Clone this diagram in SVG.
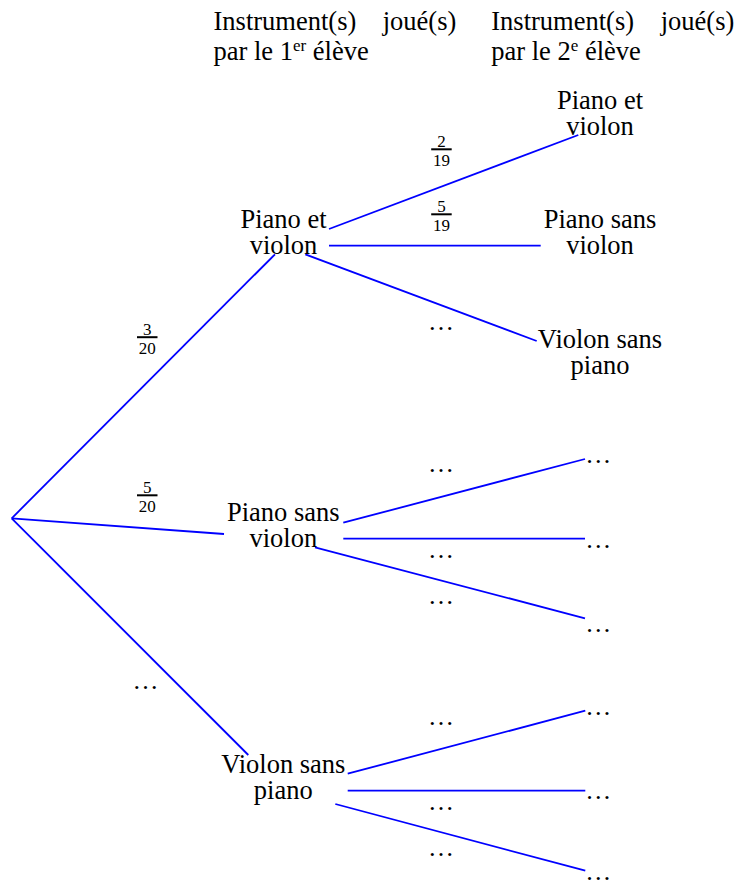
<svg xmlns="http://www.w3.org/2000/svg" width="738" height="882" viewBox="0 0 738 882">
<style>
  text { font-family: "Liberation Serif", "DejaVu Serif", serif; fill: #000; }
  .t { font-size: 26.5px; }
  .n { font-size: 26.5px; text-anchor: middle; }
  .f { font-size: 17px; text-anchor: middle; }
  .d { font-size: 26px; text-anchor: middle; }
  .sup { font-size: 17px; }
  .e line { stroke: #0000FF; stroke-width: 1.8; stroke-linecap: butt; }
</style>
<rect width="738" height="882" fill="#FFFFFF"/>

<g id="headers">
  <g id="header1">
    <text class="t" x="213.5" y="29.5">Instrument(s)</text>
    <text class="t" x="382.7" y="29.5">joué(s)</text>
    <text class="t" x="213.5" y="59.5">par le 1<tspan class="sup" dy="-9">er</tspan><tspan dy="9"> élève</tspan></text>
  </g>
  <g id="header2">
    <text class="t" x="491.3" y="29.5">Instrument(s)</text>
    <text class="t" x="660.7" y="29.5">joué(s)</text>
    <text class="t" x="491.3" y="59.5">par le 2<tspan class="sup" dy="-9">e</tspan><tspan dy="9"> élève</tspan></text>
  </g>
</g>

<g id="connectors" class="e">
  <line id="e-root-pv" x1="11.7" y1="518.3" x2="275" y2="254.3"/>
  <line id="e-root-ps" x1="11.7" y1="518.3" x2="224" y2="534"/>
  <line id="e-root-vs" x1="11.7" y1="518.3" x2="248.3" y2="755"/>
  <line id="e-pv-pv" x1="329" y1="229" x2="578.3" y2="135"/>
  <line id="e-pv-ps" x1="329" y1="245.7" x2="540.7" y2="245.7"/>
  <line id="e-pv-vs" x1="305.3" y1="254.3" x2="536.7" y2="341"/>
  <line id="e-ps-1" x1="343.3" y1="522.7" x2="585" y2="459"/>
  <line id="e-ps-2" x1="343.3" y1="538.7" x2="585" y2="538.7"/>
  <line id="e-ps-3" x1="315" y1="547.3" x2="585" y2="618.3"/>
  <line id="e-vs-1" x1="347.7" y1="773.7" x2="585.3" y2="710.7"/>
  <line id="e-vs-2" x1="347.7" y1="790.7" x2="585.3" y2="790.7"/>
  <line id="e-vs-3" x1="335.3" y1="804" x2="585.3" y2="870.7"/>
</g>

<g id="edge-labels">
  <g id="frac-3-20">
    <text class="f" x="147.2" y="334.5">3</text>
    <rect x="137" y="336.2" width="20.5" height="2" fill="#000"/>
    <text class="f" x="147.2" y="354">20</text>
  </g>
  <g id="frac-5-20">
    <text class="f" x="147.2" y="492.7">5</text>
    <rect x="137" y="494.3" width="20.5" height="2" fill="#000"/>
    <text class="f" x="147.2" y="512.2">20</text>
  </g>
  <g id="frac-2-19">
    <text class="f" x="441.5" y="146.7">2</text>
    <rect x="431.2" y="148.3" width="20.5" height="2" fill="#000"/>
    <text class="f" x="441.5" y="166">19</text>
  </g>
  <g id="frac-5-19">
    <text class="f" x="441.5" y="211.7">5</text>
    <rect x="431.2" y="213.3" width="20.5" height="2" fill="#000"/>
    <text class="f" x="441.5" y="230.7">19</text>
  </g>
  <text class="d" x="441" y="330">…</text>
  <text class="d" x="145.5" y="688.5">…</text>
  <text class="d" x="441" y="472.3">…</text>
  <text class="d" x="441" y="558.3">…</text>
  <text class="d" x="441" y="604">…</text>
  <text class="d" x="441" y="724.5">…</text>
  <text class="d" x="441" y="809.5">…</text>
  <text class="d" x="441" y="855.5">…</text>
</g>

<g id="n1-piano-violon">
  <text class="n" x="283.5" y="227.7">Piano et</text>
  <text class="n" x="283.5" y="254.3">violon</text>
</g>
<g id="n1-piano-sans-violon">
  <text class="n" x="283.3" y="520.7">Piano sans</text>
  <text class="n" x="283.3" y="546.7">violon</text>
</g>
<g id="n1-violon-sans-piano">
  <text class="n" x="283.3" y="772.7">Violon sans</text>
  <text class="n" x="283.3" y="798.5">piano</text>
</g>

<g id="n2-pv-piano-violon">
  <text class="n" x="600" y="109.3">Piano et</text>
  <text class="n" x="600" y="134.5">violon</text>
</g>
<g id="n2-pv-piano-sans-violon">
  <text class="n" x="600" y="227.7">Piano sans</text>
  <text class="n" x="600" y="254">violon</text>
</g>
<g id="n2-pv-violon-sans-piano">
  <text class="n" x="600" y="348.3">Violon sans</text>
  <text class="n" x="600" y="374">piano</text>
</g>

<g id="n2-ps-1"><text class="d" x="598.3" y="463.3">…</text></g>
<g id="n2-ps-2"><text class="d" x="598.3" y="547.7">…</text></g>
<g id="n2-ps-3"><text class="d" x="598.3" y="631.5">…</text></g>
<g id="n2-vs-1"><text class="d" x="598.3" y="715.3">…</text></g>
<g id="n2-vs-2"><text class="d" x="598.3" y="799.3">…</text></g>
<g id="n2-vs-3"><text class="d" x="598.3" y="880">…</text></g>
</svg>
